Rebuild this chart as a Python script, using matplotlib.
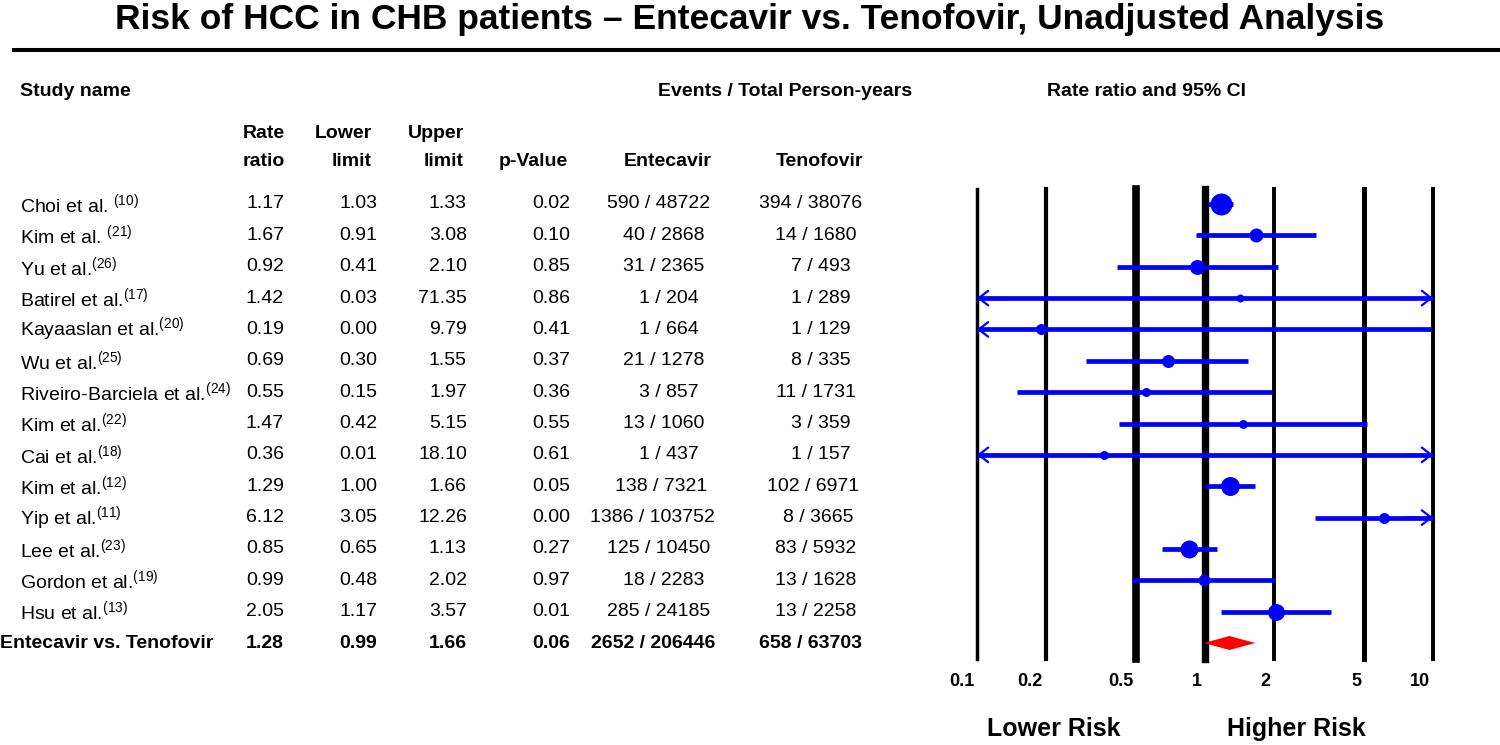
import matplotlib
matplotlib.use("Agg")
import matplotlib.pyplot as plt
from matplotlib import transforms
from matplotlib.lines import Line2D

#%% data
labels = ["Choi et al. $^{(10)}$", "Kim et al. $^{(21)}$", "Yu et al.$^{(26)}$",
          "Batirel et al.$^{(17)}$", "Kayaaslan et al.$^{(20)}$", "Wu et al.$^{(25)}$",
          "Riveiro-Barciela et al.$^{(24)}$", "Kim et al.$^{(22)}$", "Cai et al.$^{(18)}$",
          "Kim et al.$^{(12)}$", "Yip et al.$^{(11)}$", "Lee et al.$^{(23)}$",
          "Gordon et al.$^{(19)}$", "Hsu et al.$^{(13)}$"]
ratio = [1.17, 1.67, 0.92, 1.42, 0.19, 0.69, 0.55, 1.47, 0.36, 1.29, 6.12, 0.85, 0.99, 2.05]
lower = [1.03, 0.91, 0.41, 0.03, 0.00, 0.30, 0.15, 0.42, 0.01, 1.00, 3.05, 0.65, 0.48, 1.17]
upper = [1.33, 3.08, 2.10, 71.35, 9.79, 1.55, 1.97, 5.15, 18.10, 1.66, 12.26, 1.13, 2.02, 3.57]
pvals = [0.02, 0.10, 0.85, 0.86, 0.41, 0.37, 0.36, 0.55, 0.61, 0.05, 0.00, 0.27, 0.97, 0.01]
ent_events = [590, 40, 31, 1, 1, 21, 3, 13, 1, 138, 1386, 125, 18, 285]
ent_py = [48722, 2868, 2365, 204, 664, 1278, 857, 1060, 437, 7321, 103752, 10450, 2283, 24185]
ten_events = [394, 14, 7, 1, 1, 8, 11, 3, 1, 102, 8, 83, 13, 13]
ten_py = [38076, 1680, 493, 289, 129, 335, 1731, 359, 157, 6971, 3665, 5932, 1628, 2258]

pooled_label = "Entecavir vs. Tenofovir"
pooled_ratio, pooled_lower, pooled_upper, pooled_p = 1.28, 0.99, 1.66, 0.06
pooled_ent = (2652, 206446)
pooled_ten = (658, 63703)

ticks = [0.1, 0.2, 0.5, 1, 2, 5, 10]
tick_labels = ["0.1", "0.2", "0.5", "1", "2", "5", "10"]

# marker diameter in pixels (study weight)
marker_px = [22, 14, 15, 8, 11, 13, 9, 9, 9, 19, 11, 18, 12, 17]
grid_lw = [2.5, 3.0, 5.5, 5.3, 2.8, 3.6, 2.8]

#%% figure
W, H = 1500, 745
plt.rcParams['font.family'] = ['Liberation Sans', 'DejaVu Sans']
plt.rcParams['mathtext.default'] = 'regular'
fig = plt.figure(figsize=(W / 100, H / 100), dpi=100)
renderer = fig.canvas.get_renderer()

def fx(x):
    return x / W

def fy(y):
    return 1 - y / H

BLUE = "#0000ff"
FS = 14

# forest axes
x_left, x_right = 977, 1433
y_top, y_bot = 189, 659
row0, row_last = 204, 643
n = len(labels)
dy = (row_last - row0) / n
ax = fig.add_axes([fx(x_left), fy(y_bot), (x_right - x_left) / W, (y_bot - y_top) / H])
ax.set_xscale('log')
ax.set_xlim(0.1, 10)
ax.set_ylim(n + (y_bot - row_last) / dy, -(row0 - y_top) / dy)
for s in ax.spines.values():
    s.set_visible(False)
ax.set_yticks([])
ax.minorticks_off()
ax.set_xticks(ticks)
ax.set_xticklabels(tick_labels, fontsize=13, fontweight='bold', ha='right')
ax.tick_params(axis='x', length=0, pad=10)
shift = transforms.ScaledTranslation(-3 / 100, 0, fig.dpi_scale_trans)
for lab in ax.get_xticklabels():
    lab.set_transform(lab.get_transform() + shift)

for t, lw in zip(ticks, grid_lw):
    ax.axvline(t, color='black', lw=lw, clip_on=False, zorder=1)

for i in range(n):
    lo = max(lower[i], 0.1)
    hi = min(upper[i], 10)
    ax.plot([lo, hi], [i, i], color=BLUE, lw=3.4, solid_capstyle='butt', zorder=3, clip_on=False)
    ax.plot(ratio[i], i, 'o', color=BLUE, ms=marker_px[i] / 1.39, mew=0, zorder=4, clip_on=False)
    arrow = dict(arrowstyle='->, head_length=0.45, head_width=0.35', color=BLUE, lw=1.6,
                 mutation_scale=15, shrinkA=0, shrinkB=0)
    if lower[i] < 0.1:
        ax.annotate('', xy=(0.1, i), xytext=(0.13, i), arrowprops=arrow, annotation_clip=False)
    if upper[i] > 10:
        ax.annotate('', xy=(10, i), xytext=(7.5, i), arrowprops=arrow, annotation_clip=False)

# pooled diamond
h = 7 / dy
ax.fill([pooled_lower, pooled_ratio, pooled_upper, pooled_ratio],
        [n, n - h, n, n + h], color='red', lw=0, zorder=4)

#%% text
fig.text(0.5, fy(19), "Risk of HCC in CHB patients \u2013 Entecavir vs. Tenofovir, Unadjusted Analysis",
         ha='center', va='center', fontsize=25.5, fontweight='bold')
fig.add_artist(Line2D([fx(14), 1], [fy(50), fy(50)], color='black', lw=2.9))

fig.text(fx(20), fy(91), "Study name", ha='left', va='center', fontsize=FS, fontweight='bold')
fig.text(fx(658), fy(91), "Events / Total Person-years", ha='left', va='center', fontsize=FS, fontweight='bold')
fig.text(fx(1047), fy(91), "Rate ratio and 95% CI", ha='left', va='center', fontsize=FS, fontweight='bold')

hdr = dict(va='center', fontsize=FS, fontweight='bold')
fig.text(fx(285), fy(133), "Rate", ha='right', **hdr)
fig.text(fx(285), fy(161), "ratio", ha='right', **hdr)
fig.text(fx(372), fy(133), "Lower", ha='right', **hdr)
fig.text(fx(372), fy(161), "limit", ha='right', **hdr)
fig.text(fx(464), fy(133), "Upper", ha='right', **hdr)
fig.text(fx(464), fy(161), "limit", ha='right', **hdr)
fig.text(fx(568), fy(161), "p-Value", ha='right', **hdr)
fig.text(fx(668), fy(161), "Entecavir", ha='center', **hdr)
fig.text(fx(820), fy(161), "Tenofovir", ha='center', **hdr)

tr = transforms.blended_transform_factory(fig.transFigure, ax.transData)

def anchored(x, i, s, **kw):
    # the events column is anchored at 3/4 of the string width
    t = fig.text(0, i, s, ha='left', **kw)
    w = t.get_window_extent(renderer).width
    t.set_x(fx(x - 0.75 * w))

def row(i, name, rr, lo, up, p, ent, ten, weight='normal', name_x=20):
    kw = dict(transform=tr, va='center', fontsize=FS, fontweight=weight)
    fig.text(fx(name_x), i, name, ha='left', **kw)
    fig.text(fx(284), i, f"{rr:.2f}", ha='right', **kw)
    fig.text(fx(377), i, f"{lo:.2f}", ha='right', **kw)
    fig.text(fx(467), i, f"{up:.2f}", ha='right', **kw)
    fig.text(fx(570), i, f"{p:.2f}", ha='right', **kw)
    anchored(684, i, f"{ent[0]} / {ent[1]}", **kw)
    anchored(836, i, f"{ten[0]} / {ten[1]}", **kw)

for i in range(n):
    row(i, labels[i], ratio[i], lower[i], upper[i], pvals[i],
        (ent_events[i], ent_py[i]), (ten_events[i], ten_py[i]))
row(n, pooled_label, pooled_ratio, pooled_lower, pooled_upper, pooled_p,
    pooled_ent, pooled_ten, weight='bold', name_x=0)

fig.text(fx(1054), fy(729), "Lower Risk", ha='center', va='center', fontsize=18, fontweight='bold')
fig.text(fx(1296), fy(729), "Higher Risk", ha='center', va='center', fontsize=18, fontweight='bold')

fig.savefig("out.png", dpi=100)
